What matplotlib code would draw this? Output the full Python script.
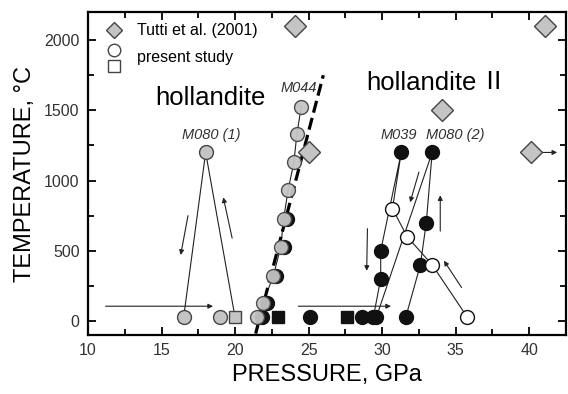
import matplotlib
matplotlib.use('Agg')
import matplotlib.pyplot as plt
from matplotlib.lines import Line2D
from matplotlib.legend_handler import HandlerBase
from matplotlib.ticker import MultipleLocator

plt.rcParams['font.family'] = ['Liberation Sans', 'DejaVu Sans']

# Tutti et al. (2001)
tutti_p = [24.1, 25.0, 34.1, 40.1, 41.1]
tutti_t = [2100, 1200, 1500, 1200, 2100]

# M080 (1), grey symbols
m080a_line_p = [16.5, 18.0, 20.0]
m080a_line_t = [25, 1200, 25]
m080a_circ_p = [16.5, 18.0, 19.0]
m080a_circ_t = [25, 1200, 25]
grey_sq_p = [20.0]
grey_sq_t = [25]

# M044, grey heating path and black points just behind it
m044_p = [21.5, 21.9, 22.6, 23.1, 23.3, 23.6, 24.0, 24.2, 24.5]
m044_t = [25, 130, 320, 525, 725, 930, 1130, 1330, 1525]
m044b_p = [21.8, 22.2, 22.8, 23.35, 23.55]
m044b_t = [25, 125, 320, 525, 725]

# black points at room temperature
blk_circ_p = [25.1, 28.6, 29.4, 29.6, 31.6]
blk_circ_t = [25, 25, 25, 25, 25]
blk_sq_p = [22.9, 27.6]
blk_sq_t = [25, 25]

# M039
m039_p = [29.4, 29.9, 29.9, 31.3, 30.7]
m039_t = [25, 300, 500, 1200, 800]
m039_blk_p = [29.9, 29.9, 31.3]
m039_blk_t = [300, 500, 1200]

# M080 (2)
m080b_p = [29.6, 33.4, 33.0, 32.6, 31.6]
m080b_t = [25, 1200, 700, 400, 25]
m080b_blk_p = [33.4, 33.0, 32.6]
m080b_blk_t = [1200, 700, 400]

# open circles (decompression)
open_p = [30.7, 31.7, 33.4, 35.8]
open_t = [800, 600, 400, 25]

# phase boundary
bound_p = [21.4, 26.0]
bound_t = [-90, 1750]

# arrows: (tail, head)
arrows = [
    ((11.2, 105), (18.5, 105)),
    ((16.8, 750), (16.3, 470)),
    ((19.8, 590), (19.2, 880)),
    ((24.3, 105), (30.6, 105)),
    ((32.5, 1060), (31.9, 845)),
    ((33.95, 640), (33.95, 895)),
    ((29.0, 657), (28.95, 357)),
    ((35.4, 238), (34.2, 429)),
    ((40.1, 1200), (41.9, 1200)),
]

GREY = '#c4c4c4'
EDGE = '#444444'
LINE = '#222222'


class StackHandler(HandlerBase):
    def create_artists(self, legend, orig_handle, xdescent, ydescent,
                       width, height, fontsize, trans):
        cx = width / 2 - xdescent
        c = Line2D([cx], [height * 1.05], marker='o', ms=9, mfc='white',
                   mec=EDGE, mew=1, ls='')
        s = Line2D([cx], [-height * 0.35], marker='s', ms=8, mfc='white',
                   mec=EDGE, mew=1, ls='')
        c.set_transform(trans)
        s.set_transform(trans)
        return [c, s]


fig = plt.figure(figsize=(5.68, 3.94), dpi=100)
ax = fig.add_axes([88 / 568, 59 / 394, 478 / 568, 323 / 394])

ax.plot(bound_p, bound_t, color='black', lw=2.3, ls=(0, (3.8, 1.7)), zorder=4)

lk = dict(color=LINE, lw=0.8, zorder=2)
ax.plot(m080a_line_p, m080a_line_t, **lk)
ax.plot(m044_p, m044_t, **lk)
ax.plot(m039_p, m039_t, **lk)
ax.plot(m080b_p, m080b_t, **lk)
ax.plot(open_p, open_t, **lk)

for (x0, y0), (x1, y1) in arrows:
    ax.annotate('', xy=(x1, y1), xytext=(x0, y0),
                arrowprops=dict(arrowstyle='-|>', lw=0.8, color=LINE,
                                mutation_scale=7, shrinkA=0, shrinkB=0),
                zorder=3)

ms = 10
ax.plot(m044b_p, m044b_t, 'o', ms=ms, mfc='#111111', mec='#111111', zorder=3)
ax.plot(blk_circ_p, blk_circ_t, 'o', ms=ms, mfc='#111111', mec='#111111', zorder=5)
ax.plot(blk_sq_p, blk_sq_t, 's', ms=9, mfc='#111111', mec='#111111', zorder=5)
ax.plot(m039_blk_p, m039_blk_t, 'o', ms=ms, mfc='#111111', mec='#111111', zorder=5)
ax.plot(m080b_blk_p, m080b_blk_t, 'o', ms=ms, mfc='#111111', mec='#111111', zorder=5)
ax.plot(open_p, open_t, 'o', ms=ms, mfc='white', mec='#111111', mew=1, zorder=5)
ax.plot(m080a_circ_p, m080a_circ_t, 'o', ms=ms, mfc=GREY, mec=EDGE, mew=1, zorder=5)
ax.plot(grey_sq_p, grey_sq_t, 's', ms=9, mfc=GREY, mec=EDGE, mew=1, zorder=5)
ax.plot(m044_p, m044_t, 'o', ms=ms, mfc=GREY, mec=EDGE, mew=1, zorder=5, alpha=0.95)
ax.plot(tutti_p, tutti_t, 'D', ms=11, mfc=GREY, mec=EDGE, mew=1, zorder=6)

lab = dict(style='italic', fontsize=10.5, color='#333333', ha='center', va='center')
ax.text(18.4, 1321, 'M080 (1)', **lab)
ax.text(24.3, 1657, 'M044', **lab)
ax.text(31.1, 1321, 'M039', **lab)
ax.text(35.0, 1321, 'M080 (2)', **lab)
ax.text(18.3, 1586, 'hollandite', fontsize=18.5, ha='center', va='center')
ax.text(32.7, 1693, 'hollandite', fontsize=18.5, ha='center', va='center')
ax.text(37.55, 1700, 'Ⅱ', fontsize=18.5, ha='center', va='center',
        family=['Noto Sans CJK JP', 'DejaVu Sans'])

h_tutti = Line2D([], [], marker='D', ms=8, mfc=GREY, mec=EDGE, ls='')
h_present = Line2D([], [], ls='')
ax.legend([h_tutti, h_present], ['Tutti et al. (2001)', 'present study'],
          handler_map={h_present: StackHandler()}, loc='upper left',
          bbox_to_anchor=(0.015, 1.0), frameon=False, fontsize=11.5,
          handlelength=1.0, handletextpad=0.9, labelspacing=0.75,
          borderaxespad=0.3)

ax.set_xlim(10, 42.5)
ax.set_ylim(-100, 2200)
ax.xaxis.set_major_locator(MultipleLocator(5))
ax.xaxis.set_minor_locator(MultipleLocator(2.5))
ax.yaxis.set_major_locator(MultipleLocator(500))
ax.yaxis.set_minor_locator(MultipleLocator(250))
ax.tick_params(which='both', direction='in', top=True, right=True, width=1.3,
               labelsize=11.5, labelcolor='#333333', pad=6)
ax.tick_params(which='major', length=6)
ax.tick_params(which='minor', length=4)
for s in ax.spines.values():
    s.set_linewidth(1.6)

ax.set_xlabel('PRESSURE, GPa', fontsize=17, labelpad=4)
ax.set_ylabel('TEMPERATURE, °C', fontsize=17, labelpad=6)

fig.savefig('out.png', dpi=100)
